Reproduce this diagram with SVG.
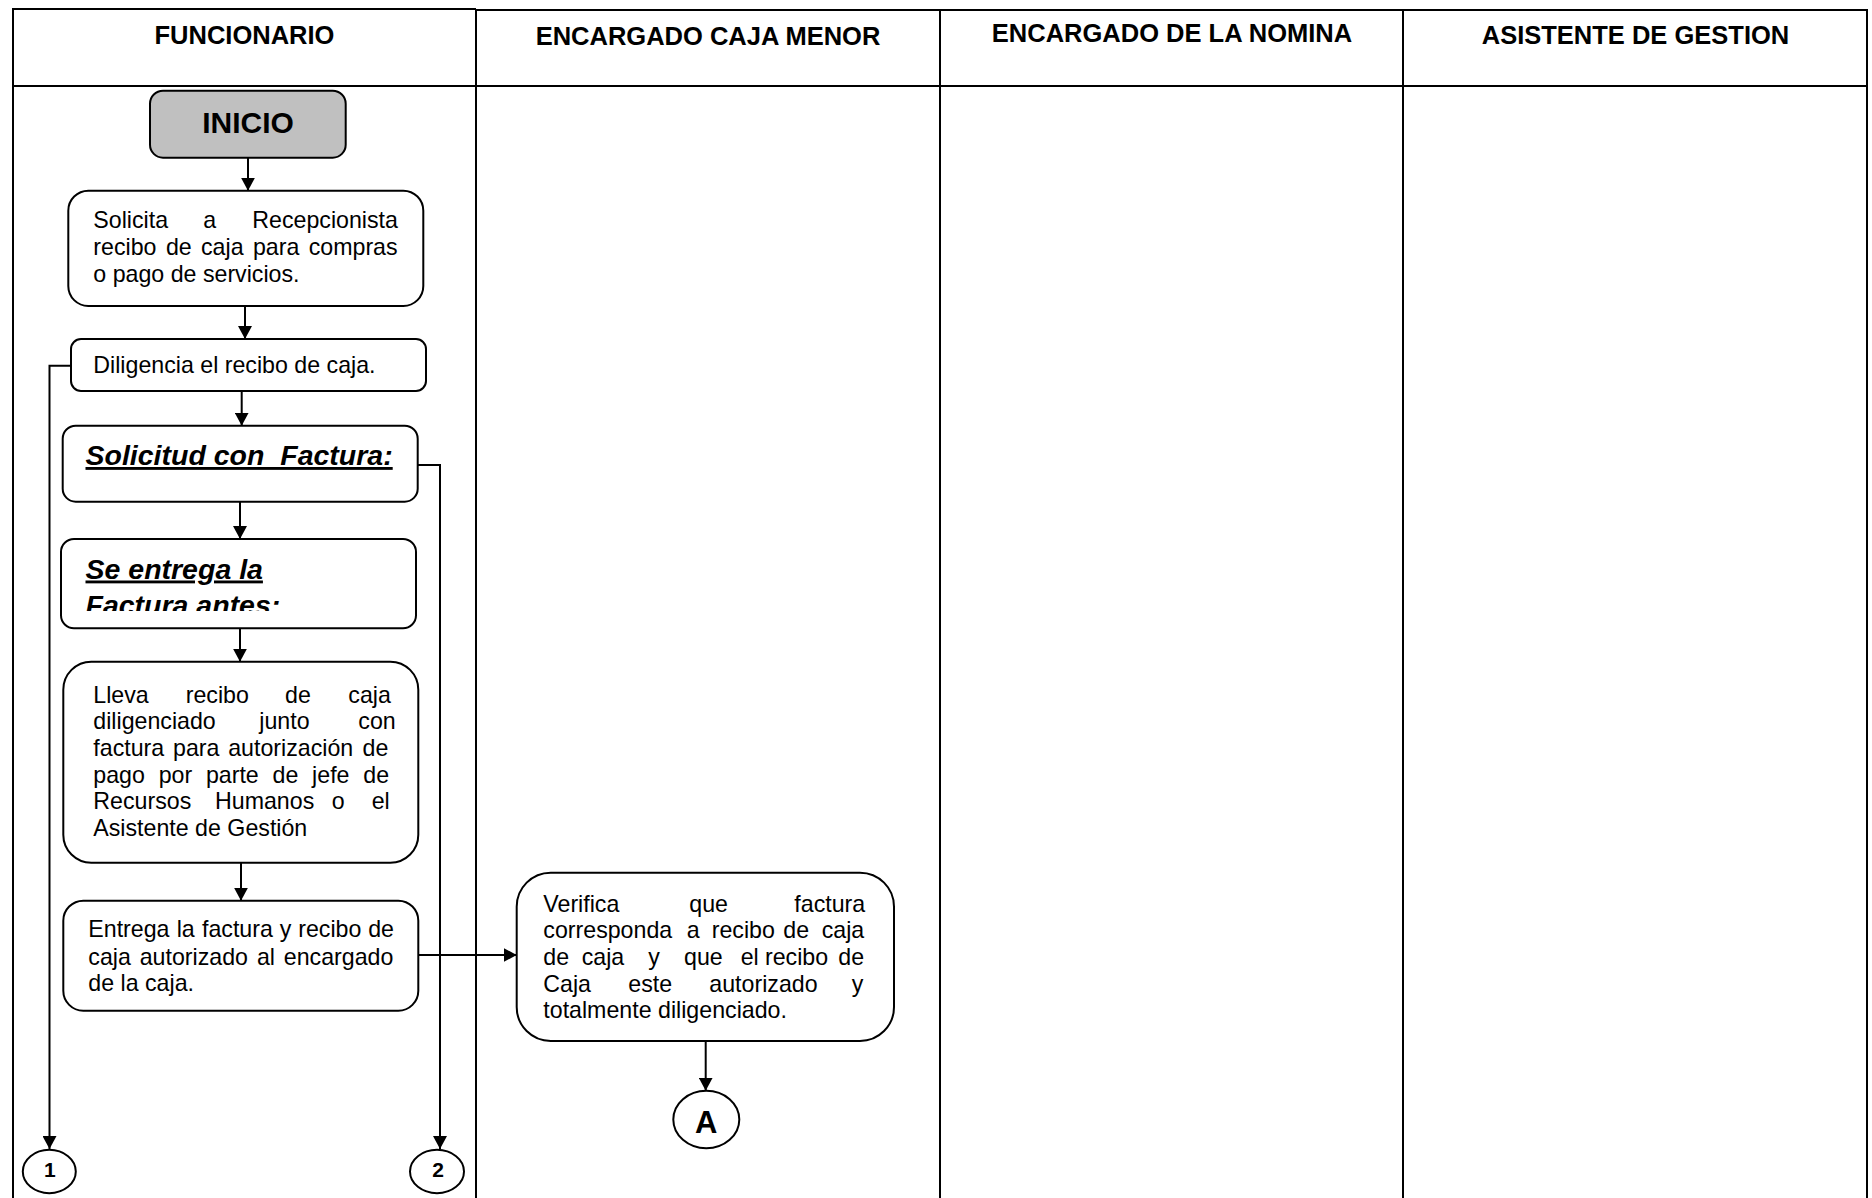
<svg xmlns="http://www.w3.org/2000/svg" width="1872" height="1198" viewBox="0 0 1872 1198">
  <style>
    .lane { stroke: #000; stroke-width: 2; fill: none; }
    .box { fill: #fff; stroke: #000; stroke-width: 2; }
    .start { fill: #c0c0c0; stroke: #000; stroke-width: 2; }
    .conn { fill: none; stroke: #000; stroke-width: 2; }
    .head { font-family: "Liberation Sans", Arial, sans-serif; font-weight: bold; font-size: 25.5px; fill: #000; text-anchor: middle; }
    .body { font-family: "Liberation Sans", Arial, sans-serif; font-size: 23.2px; fill: #000; }
    .title { font-family: "Liberation Sans", Arial, sans-serif; font-size: 28.5px; font-weight: bold; font-style: italic; fill: #000; }
    .mark { font-family: "Liberation Sans", Arial, sans-serif; font-weight: bold; fill: #000; text-anchor: middle; }
  </style>
  <defs>
    <marker id="arrow" viewBox="0 0 13 14" refX="13" refY="7" markerWidth="13" markerHeight="14" markerUnits="userSpaceOnUse" orient="auto">
      <path d="M0,0 L13,7 L0,14 z" fill="#000"/>
    </marker>
    <clipPath id="clip-entrega">
      <rect x="61" y="540" width="355" height="71"/>
    </clipPath>
  </defs>

  <rect width="1872" height="1198" fill="#fff"/>

  <!-- swimlane frame -->
  <g id="lanes">
    <line class="lane" x1="13" y1="9" x2="476" y2="9"/>
    <line class="lane" x1="476" y1="10" x2="1867" y2="10"/>
    <line class="lane" x1="13" y1="86" x2="1867" y2="86"/>
    <line class="lane" x1="13" y1="8" x2="13" y2="1198"/>
    <line class="lane" x1="476" y1="9" x2="476" y2="1198"/>
    <line class="lane" x1="940" y1="9" x2="940" y2="1198"/>
    <line class="lane" x1="1403" y1="9" x2="1403" y2="1198"/>
    <line class="lane" x1="1867" y1="9" x2="1867" y2="1198"/>
    <text class="head" x="244.5" y="44.3">FUNCIONARIO</text>
    <text class="head" x="708" y="44.5">ENCARGADO CAJA MENOR</text>
    <text class="head" x="1172" y="41.5">ENCARGADO DE LA NOMINA</text>
    <text class="head" x="1635.5" y="44">ASISTENTE DE GESTION</text>
  </g>

  <!-- connectors -->
  <g id="connectors">
    <path class="conn" d="M248,158 V190.7" marker-end="url(#arrow)"/>
    <path class="conn" d="M245,306 V339" marker-end="url(#arrow)"/>
    <path class="conn" d="M241.7,391 V425.7" marker-end="url(#arrow)"/>
    <path class="conn" d="M240,501.7 V539" marker-end="url(#arrow)"/>
    <path class="conn" d="M240,628.3 V661.7" marker-end="url(#arrow)"/>
    <path class="conn" d="M241,862.7 V900.7" marker-end="url(#arrow)"/>
    <path class="conn" d="M418.3,955 H516.7" marker-end="url(#arrow)"/>
    <path class="conn" d="M705.7,1041 V1090.7" marker-end="url(#arrow)"/>
    <path class="conn" d="M71,365.7 H49.5 V1149" marker-end="url(#arrow)"/>
    <path class="conn" d="M417.7,465 H440 V1149" marker-end="url(#arrow)"/>
  </g>

  <g id="inicio">
    <rect class="start" x="150" y="90.7" width="195.7" height="67" rx="13"/>
    <text class="mark" x="248" y="132.7" font-size="30">INICIO</text>
  </g>

  <g id="solicita">
    <rect class="box" x="68.3" y="190.7" width="355" height="115.3" rx="20"/>
    <text class="body" y="228.3"><tspan x="93.3">Solicita</tspan><tspan x="203.3">a</tspan><tspan x="252.3">Recepcionista</tspan></text>
    <text class="body" y="255"><tspan x="93.3">recibo</tspan><tspan x="165.9">de</tspan><tspan x="201">caja</tspan><tspan x="252.9">para</tspan><tspan x="308.7">compras</tspan></text>
    <text class="body" x="93.3" y="281.7">o pago de servicios.</text>
  </g>

  <g id="diligencia">
    <rect class="box" x="71" y="339" width="355" height="52" rx="10"/>
    <text class="body" x="93.3" y="372.7">Diligencia el recibo de caja.</text>
  </g>

  <g id="solicitud-factura">
    <rect class="box" x="62.7" y="425.7" width="355" height="76" rx="13"/>
    <text class="title" x="85.5" y="465" text-decoration="underline" xml:space="preserve">Solicitud con  Factura:</text>
  </g>

  <g id="entrega-antes">
    <rect class="box" x="61" y="539" width="355" height="89.3" rx="13"/>
    <g clip-path="url(#clip-entrega)">
      <text class="title" x="85.5" y="578.5" text-decoration="underline">Se entrega la</text>
      <text class="title" x="85.5" y="614.5">Factura antes:</text>
    </g>
  </g>

  <g id="lleva">
    <rect class="box" x="63.3" y="661.7" width="355" height="201" rx="28"/>
    <text class="body" y="702.7"><tspan x="93.3">Lleva</tspan><tspan x="185.7">recibo</tspan><tspan x="285">de</tspan><tspan x="348.3">caja</tspan></text>
    <text class="body" y="729.4"><tspan x="93.3">diligenciado</tspan><tspan x="259.3">junto</tspan><tspan x="358.3">con</tspan></text>
    <text class="body" y="756"><tspan x="93.3">factura</tspan><tspan x="173">para</tspan><tspan x="228.2">autorización</tspan><tspan x="362.5">de</tspan></text>
    <text class="body" y="782.7"><tspan x="93.3">pago</tspan><tspan x="158.7">por</tspan><tspan x="205.9">parte</tspan><tspan x="272.6">de</tspan><tspan x="312.1">jefe</tspan><tspan x="363.3">de</tspan></text>
    <text class="body" y="809.4"><tspan x="93.3">Recursos</tspan><tspan x="215">Humanos</tspan><tspan x="331.7">o</tspan><tspan x="371.7">el</tspan></text>
    <text class="body" x="93.3" y="836">Asistente de Gestión</text>
  </g>

  <g id="entrega-factura">
    <rect class="box" x="63.3" y="900.7" width="355" height="110" rx="20"/>
    <text class="body" y="937.3"><tspan x="88.3">Entrega</tspan><tspan x="176.7">la</tspan><tspan x="202">factura</tspan><tspan x="279.8">y</tspan><tspan x="298.2">recibo</tspan><tspan x="368.2">de</tspan></text>
    <text class="body" y="965"><tspan x="88.3">caja</tspan><tspan x="139.7">autorizado</tspan><tspan x="256.9">al</tspan><tspan x="283.8">encargado</tspan></text>
    <text class="body" x="88.3" y="990.7">de la caja.</text>
  </g>

  <g id="verifica">
    <rect class="box" x="516.7" y="872.7" width="377.3" height="168.3" rx="34"/>
    <text class="body" y="911.7"><tspan x="543.3">Verifica</tspan><tspan x="689.3">que</tspan><tspan x="794.3">factura</tspan></text>
    <text class="body" y="938.3"><tspan x="543.3">corresponda</tspan><tspan x="686.7">a</tspan><tspan x="711.7">recibo</tspan><tspan x="783.3">de</tspan><tspan x="821.7">caja</tspan></text>
    <text class="body" y="965"><tspan x="543.3">de</tspan><tspan x="581.7">caja</tspan><tspan x="648.3">y</tspan><tspan x="684">que</tspan><tspan x="740.7">el</tspan><tspan x="765">recibo</tspan><tspan x="838.3">de</tspan></text>
    <text class="body" y="991.7"><tspan x="543.3">Caja</tspan><tspan x="628.3">este</tspan><tspan x="709.3">autorizado</tspan><tspan x="851.7">y</tspan></text>
    <text class="body" x="543.3" y="1018.3">totalmente diligenciado.</text>
  </g>

  <g id="conector-a">
    <ellipse class="box" cx="706.3" cy="1119.5" rx="33" ry="28.8"/>
    <text class="mark" x="706.3" y="1132.5" font-size="31">A</text>
  </g>

  <g id="conector-1">
    <ellipse class="box" cx="49.3" cy="1171.5" rx="26.5" ry="21.7"/>
    <text class="mark" x="49.8" y="1177" font-size="21">1</text>
  </g>

  <g id="conector-2">
    <ellipse class="box" cx="437" cy="1171.5" rx="27" ry="21.7"/>
    <text class="mark" x="438" y="1177" font-size="21">2</text>
  </g>
</svg>
